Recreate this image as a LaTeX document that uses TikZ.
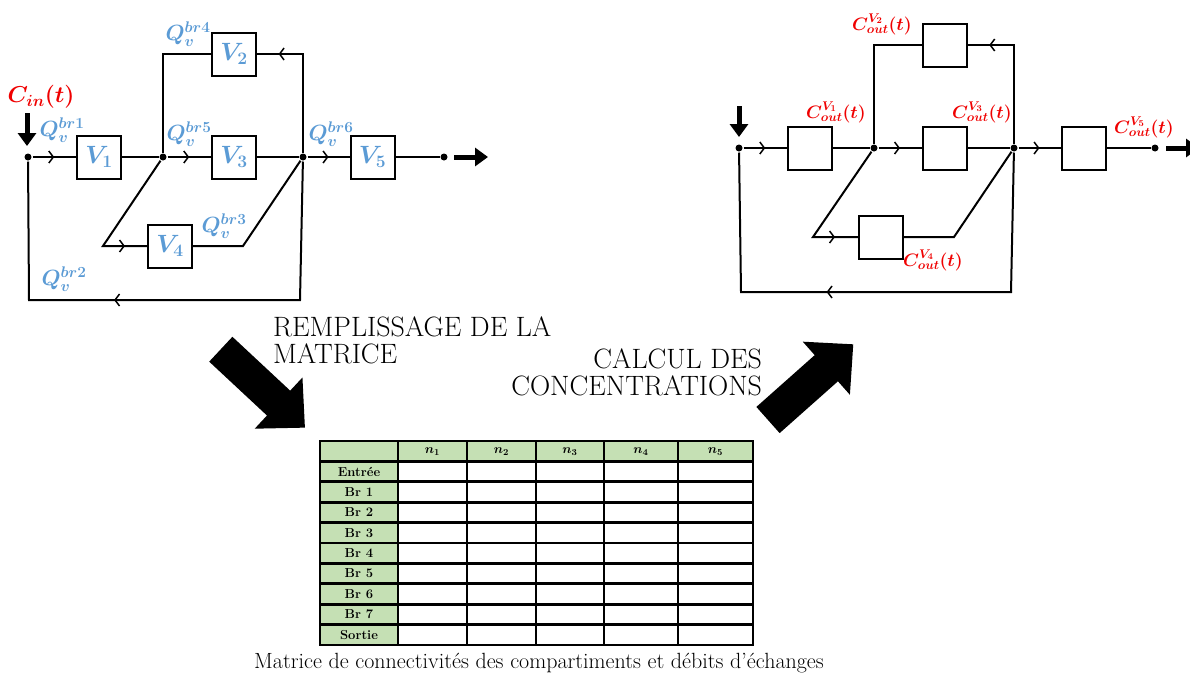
\RequirePackage{fix-cm}
\documentclass[tikz,border=0pt]{standalone}
\usepackage{bm}
\usetikzlibrary{arrows.meta,decorations.markings}
\definecolor{qblue}{RGB}{91,155,213}
\definecolor{cred}{RGB}{240,0,0}
\definecolor{tgreen}{RGB}{197,224,180}
\begin{document}
\begin{tikzpicture}[x=1pt,y=-1pt,
  line width=2pt,
  box/.style={draw,line width=2pt,minimum width=44pt,minimum height=43pt,inner sep=0pt,fill=white,font=\fontsize{25}{28}\selectfont,text=qblue},
  jdot/.style={circle,fill=black,inner sep=0pt,minimum size=7pt},
  qlab/.style={text=qblue,font=\fontsize{22}{26}\selectfont,inner sep=0pt},
  clab/.style={text=cred,font=\fontsize{18}{22}\selectfont,inner sep=0pt},
  marr/.style={postaction={decorate,decoration={markings,mark=at position #1 with {\arrow{Straight Barb[length=4.5pt,width=12pt,line width=1.5pt]}}}}},
  marr/.default=0.5,
  heavyarrow/.style={line width=5pt,-{Triangle[length=13pt,width=18pt]}},
  bigtext/.style={font=\fontsize{28}{27}\selectfont,inner sep=0pt},
  cell/.style={font=\fontsize{13}{15}\selectfont\bfseries,inner sep=0pt}
]
\useasboundingbox (0,0) rectangle (1190,673);
\fill[white] (0,0) rectangle (1190,673);

% ---------------- Left diagram ----------------
\node[jdot] (s1) at (28,157) {};
\node[jdot] (j1) at (163,157) {};
\node[jdot] (j2) at (303,157) {};
\node[jdot] (e1) at (444,157) {};
\node[box] (V1) at (99,157) {$\bm{V_1}$};
\node[box] (V3) at (234,157) {$\bm{V_3}$};
\node[box] (V5) at (372.5,157) {$\bm{V_5}$};
\node[box] (V2) at (234,54) {$\bm{V_2}$};
\node[box] (V4) at (170,246) {$\bm{V_4}$};
\coordinate (a4) at (103,246);
\coordinate (b4) at (243,246);
\coordinate (lb1) at (300,300);
\coordinate (lb2) at (29,300);
\coordinate (din1) at (27,113);
\coordinate (din2) at (27,146);
\coordinate (dout1) at (454,157);
\coordinate (dout2) at (488,157);

\draw[marr] (s1) -- (V1);
\draw (V1) -- (j1);
\draw[marr] (j1) -- (V3);
\draw (V3) -- (j2);
\draw[marr] (j2) -- (V5);
\draw (V5) -- (e1);
\draw (j1) |- (V2);
\draw[marr=0.85] (j2) |- (V2);
\draw[marr=0.85] (j1) -- (a4) -- (V4);
\draw (V4) -- (b4) -- (j2);
\draw[marr=0.592] (j2) -- (lb1) -- (lb2) -- (s1);
\draw[heavyarrow] (din1) -- (din2);
\draw[heavyarrow] (dout1) -- (dout2);

\node[text=cred,font=\fontsize{23}{27}\selectfont,inner sep=0pt] (cin) at (41,97) {$\bm{C_{in}(t)}$};
\node[qlab] (q1) at (62,130) {$\bm{Q_v^{br1}}$};
\node[qlab] (q4) at (188,34) {$\bm{Q_v^{br4}}$};
\node[qlab] (q5) at (189,134) {$\bm{Q_v^{br5}}$};
\node[qlab] (q6) at (331,134) {$\bm{Q_v^{br6}}$};
\node[qlab] (q3) at (224,226) {$\bm{Q_v^{br3}}$};
\node[qlab] (q2) at (64,279) {$\bm{Q_v^{br2}}$};

% ---------------- Right diagram ----------------
\node[jdot] (s2) at (739,148) {};
\node[jdot] (k1) at (874,148) {};
\node[jdot] (k2) at (1014,148) {};
\node[jdot] (e2) at (1155,148) {};
\node[box] (R1) at (810,148) {};
\node[box] (R3) at (944.5,148) {};
\node[box] (R5) at (1083.5,148) {};
\node[box] (R2) at (944.5,45) {};
\node[box] (R4) at (881,237) {};
\coordinate (a5) at (813,237);
\coordinate (b5) at (954,237);
\coordinate (rb1) at (1011,292);
\coordinate (rb2) at (741,292);
\coordinate (din3) at (739,106);
\coordinate (din4) at (739,137);
\coordinate (dout3) at (1166,148);
\coordinate (dout4) at (1199,148);

\draw[marr] (s2) -- (R1);
\draw (R1) -- (k1);
\draw[marr] (k1) -- (R3);
\draw (R3) -- (k2);
\draw[marr] (k2) -- (R5);
\draw (R5) -- (e2);
\draw (k1) |- (R2);
\draw[marr=0.85] (k2) |- (R2);
\draw[marr=0.845] (k1) -- (a5) -- (R4);
\draw (R4) -- (b5) -- (k2);
\draw[marr=0.59] (k2) -- (rb1) -- (rb2) -- (s2);
\draw[heavyarrow] (din3) -- (din4);
\draw[heavyarrow] (dout3) -- (dout4);

\node[clab] (c1) at (836,112) {$\bm{C_{out}^{V_1}(t)}$};
\node[clab] (c2) at (882,24) {$\bm{C_{out}^{V_2}(t)}$};
\node[clab] (c3) at (982,112) {$\bm{C_{out}^{V_3}(t)}$};
\node[clab] (c5) at (1144,127) {$\bm{C_{out}^{V_5}(t)}$};
\node[clab] (c4) at (933,260) {$\bm{C_{out}^{V_4}(t)}$};

% ---------------- Big arrows and texts ----------------
\fill[shift={(220.8,349.2)},rotate=-43] (0,-17) -- (79,-17) -- (79,-35) -- (115,0) -- (79,35) -- (79,17) -- (0,17) -- cycle;
\fill[shift={(768,420)},rotate=41.6] (0,-17.5) -- (78,-17.5) -- (78,-35.5) -- (114,0) -- (78,35.5) -- (78,17.5) -- (0,17.5) -- cycle;

\node[bigtext,anchor=north west,align=left] (t1) at (272,316) {REMPLISSAGE DE LA\\MATRICE};
\node[bigtext,anchor=north east,align=right] (t2) at (763,348) {CALCUL DES\\CONCENTRATIONS};

% ---------------- Table ----------------
\fill[tgreen] (320,441) rectangle (753,461.4);
\fill[tgreen] (320,441) rectangle (398,645);
\begin{scope}[line width=2.8pt,line cap=rect]
\foreach \xx in {320,398,467,536,604,678,753} \draw (\xx,441) -- (\xx,645);
\foreach \k in {0,...,10} \draw (320,441+20.4*\k) -- (753,441+20.4*\k);
\end{scope}
\foreach \lab [count=\i] in {Entrée,Br 1,Br 2,Br 3,Br 4,Br 5,Br 6,Br 7,Sortie}
  \node[cell] (row\i) at (359,441+20.4*\i+10.2) {\lab};
\foreach \cx [count=\i] in {432.5,501.5,570,641,715.5}
  \node[cell] (col\i) at (\cx,451.2) {$\bm{n_{\i}}$};

\node[anchor=base,font=\fontsize{22}{26}\selectfont,inner sep=0pt] (cap) at (539,668) {Matrice de connectivités des compartiments et débits d'échanges};
\end{tikzpicture}
\end{document}
